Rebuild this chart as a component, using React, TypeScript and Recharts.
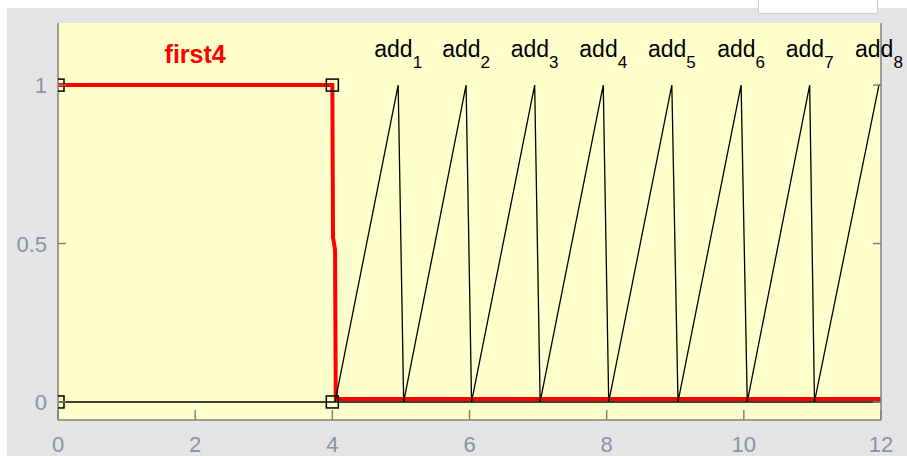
import { LineChart, Line, XAxis, YAxis, CartesianGrid, ReferenceDot } from 'recharts';

const xTicks = [0, 2, 4, 6, 8, 10, 12];
const yTicks = [0, 0.5, 1];

// red "first4" trace
const firstX = [0, 4, 4.01, 4.04, 4.05, 12];
const firstY = [1, 1, 0.52, 0.48, 0.009, 0.009];

// black baseline trace
const baseX = [0, 4, 12];
const baseY = [0, 0, 0];

// black sawtooth (add_1 .. add_8)
const sawX = [4.04, 4.96, 5.04, 5.95, 6.03, 6.95, 7.03, 7.95, 8.03, 8.95, 9.04, 9.96, 10.05, 10.96, 11.03, 11.97, 12];
const sawY = [0, 1, 0, 1, 0, 1, 0, 1, 0, 1, 0, 1, 0, 1, 0, 1, 1];

const addNames = ['1', '2', '3', '4', '5', '6', '7', '8'];
const addX = [4.96, 5.95, 6.95, 7.95, 8.95, 9.96, 10.96, 11.97];
const addY = 1.088;

const zip = (xs: number[], ys: number[]) => xs.map((x, i) => ({ x, y: ys[i] }));
const firstData = zip(firstX, firstY);
const baseData = zip(baseX, baseY);
const sawData = zip(sawX, sawY);

const AXIS = '#808080';
const LABEL = '#8892a8';

const squareAt = (idx: number[]) => (p: any) => {
  if (!idx.includes(p.index)) return <g key={p.index} />;
  return <rect key={p.index} x={p.cx - 6} y={p.cy - 6} width={12} height={12} fill="none" stroke="#000" strokeWidth={1.5} />;
};

const BottomTick = ({ x, y, payload }: any) => (
  <g>
    <line x1={x} x2={x} y1={y} y2={y - 10} stroke={AXIS} strokeWidth={1.5} />
    <text x={x} y={y + 32} textAnchor="middle" fill={LABEL} fontSize={22}>{payload.value}</text>
  </g>
);
const TopTick = ({ x, y }: any) => <line x1={x} x2={x} y1={y} y2={y + 9} stroke={AXIS} strokeWidth={1.5} />;
const LeftTick = ({ x, y, payload }: any) => (
  <g>
    <line x1={x} x2={x + 8} y1={y} y2={y} stroke={AXIS} strokeWidth={1.5} />
    <text x={x - 11} y={y + 8} textAnchor="end" fill={LABEL} fontSize={22}>{payload.value}</text>
  </g>
);
const RightTick = ({ x, y }: any) => <line x1={x} x2={x - 8} y1={y} y2={y} stroke={AXIS} strokeWidth={1.5} />;

export default function App() {
  return (
    <div style={{ position: 'fixed', left: 0, top: 0, width: 907, height: 456, background: '#fff', overflow: 'hidden' }}>
      <div style={{ position: 'absolute', left: 7, top: 8, right: 0, bottom: 0, background: '#e5e5e5' }} />
      <div style={{ position: 'absolute', left: 758, top: 0, width: 118, height: 13, background: '#fff', border: '1px solid #cfcfcf', borderTop: 'none' }} />
      <div style={{ position: 'absolute', left: 0, top: 0 }}>
        <LineChart width={907} height={456} margin={{ top: 23, right: 0, bottom: 0, left: 0 }}
          style={{ fontFamily: '"Liberation Sans", Arial, sans-serif' }}>
          <CartesianGrid fill="#ffffcc" fillOpacity={1} horizontal={false} vertical={false} />
          <XAxis dataKey="x" type="number" domain={[0, 12]} ticks={xTicks} allowDataOverflow height={36}
            axisLine={{ stroke: AXIS, strokeWidth: 1.5 }} tickLine={false} tickSize={0} tickMargin={0} tick={BottomTick} />
          <XAxis xAxisId="top" orientation="top" dataKey="x" type="number" domain={[0, 12]} ticks={xTicks} allowDataOverflow height={0}
            axisLine={{ stroke: AXIS, strokeWidth: 1.5 }} tickLine={false} tickSize={0} tickMargin={0} tick={TopTick} />
          <YAxis type="number" domain={[-0.057, 1.196]} ticks={yTicks} allowDataOverflow width={58}
            axisLine={{ stroke: AXIS, strokeWidth: 1.5 }} tickLine={false} tickSize={0} tickMargin={0} tick={LeftTick} />
          <YAxis yAxisId="right" orientation="right" type="number" domain={[-0.057, 1.196]} ticks={yTicks} allowDataOverflow width={26}
            axisLine={{ stroke: AXIS, strokeWidth: 1.5 }} tickLine={false} tickSize={0} tickMargin={0} tick={RightTick} />
          <Line data={baseData} dataKey="y" stroke="#000" strokeWidth={1.5} dot={squareAt([0, 1])} isAnimationActive={false} />
          <Line data={firstData} dataKey="y" stroke="#ff0000" strokeWidth={4} dot={squareAt([0, 1])} isAnimationActive={false} />
          <Line data={sawData} dataKey="y" stroke="#000" strokeWidth={1.3} dot={false} isAnimationActive={false} />
          <ReferenceDot x={2} y={1.07} r={0} ifOverflow="visible"
            shape={(p: any) => <text x={p.cx} y={p.cy} textAnchor="middle" fill="#ff0000" fontSize={25} fontWeight="bold">first4</text>} />
          {addX.map((ax, i) => (
            <ReferenceDot key={i} x={ax} y={addY} r={0} ifOverflow="visible"
              shape={(p: any) => (
                <text x={p.cx} y={p.cy} textAnchor="middle" fill="#000" fontSize={23}>
                  <tspan>add</tspan>
                  <tspan dy={11} fontSize={17}>{addNames[i]}</tspan>
                </text>
              )} />
          ))}
        </LineChart>
      </div>
    </div>
  );
}
